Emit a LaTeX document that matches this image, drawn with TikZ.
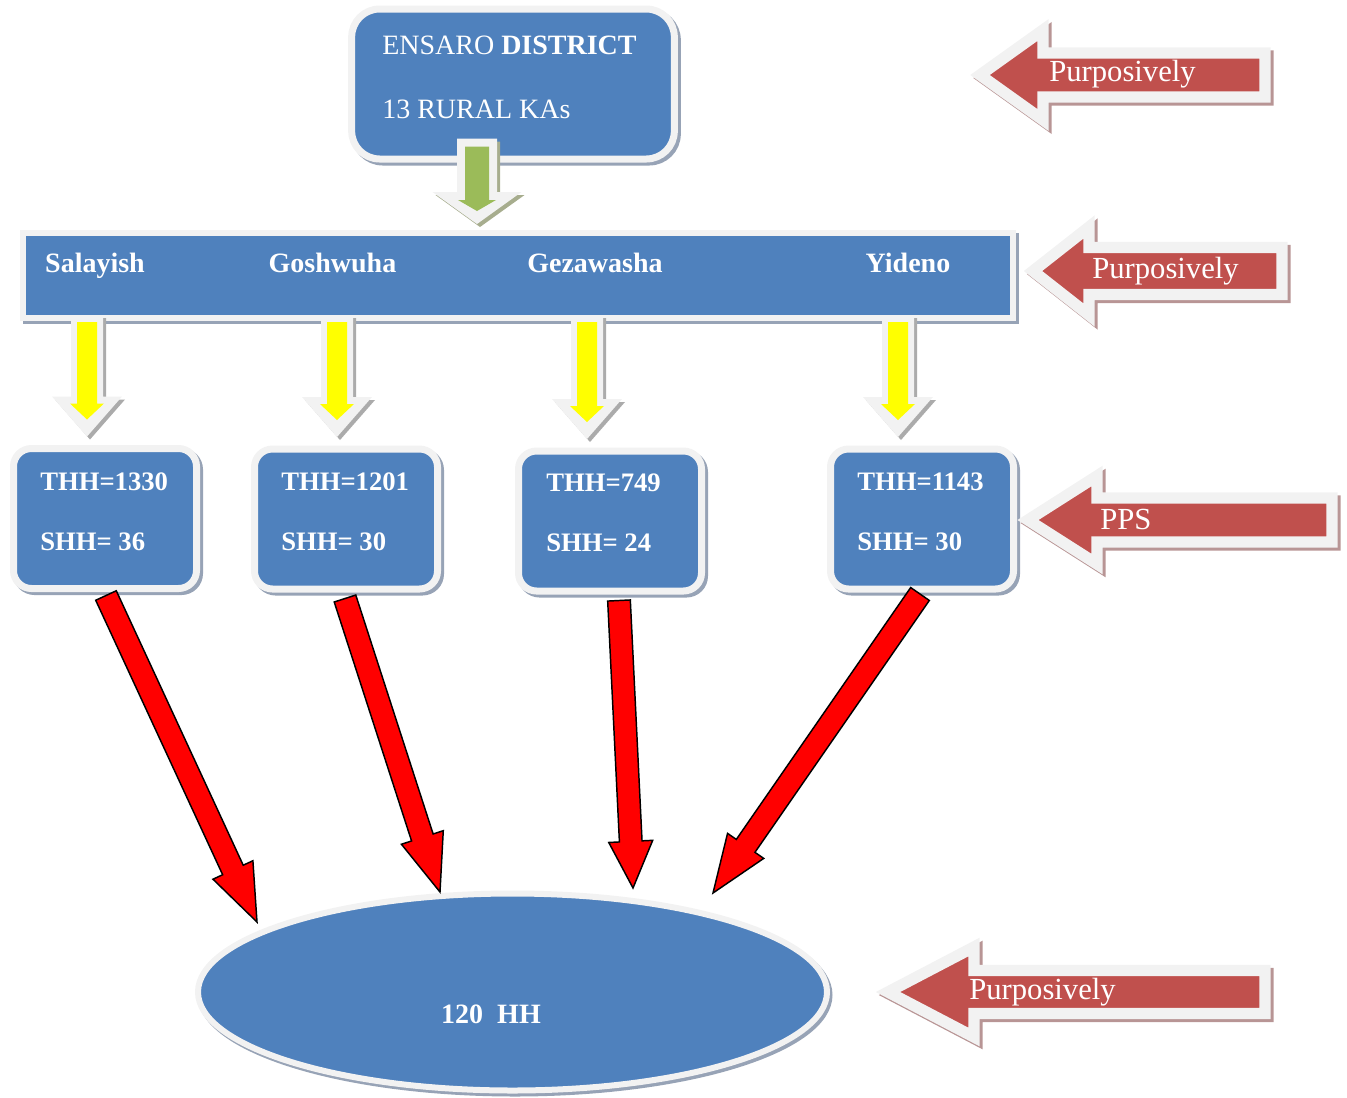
\documentclass[tikz,border=0pt]{standalone}
\usepackage{fontspec}
\setmainfont{Liberation Serif}
\usetikzlibrary{calc,shapes.geometric}
\definecolor{blu}{HTML}{4F81BD}
\definecolor{rd}{HTML}{C0504D}
\definecolor{grn}{HTML}{9BBB59}
\definecolor{rim}{HTML}{F2F2F2}
\definecolor{shdb}{HTML}{97A3B6}
\definecolor{shdr}{HTML}{B89595}
\definecolor{shdg}{HTML}{ABABAB}
\definecolor{shdo}{HTML}{A7AD8E}
\definecolor{ylw}{HTML}{FFFF00}
% fat block arrow: from, to, shaft half, head half, head length, style, shift
\newcommand{\fatarr}[7]{%
  \coordinate (fa-a) at ($(#1)+(#7)$);
  \coordinate (fa-b) at ($(#2)+(#7)$);
  \coordinate (fa-h) at ($(fa-b)!#5!(fa-a)$);
  \path[#6] ($(fa-a)!#3!90:(fa-b)$) -- ($(fa-h)!#3!90:(fa-b)$) -- ($(fa-h)!#4!90:(fa-b)$) -- (fa-b)
    -- ($(fa-h)!#4!-90:(fa-b)$) -- ($(fa-h)!#3!-90:(fa-b)$) -- ($(fa-a)!#3!-90:(fa-b)$) -- cycle;}
% left-pointing block arrow: tip x, centre y, head back x, right x, head half, shaft half, style
\newcommand{\lblock}[7]{%
  \path[#7] (#1,#2) -- (#3,#2-#5) -- (#3,#2-#6) -- (#4,#2-#6) -- (#4,#2+#6) -- (#3,#2+#6) -- (#3,#2+#5) -- cycle;}
\begin{document}
\begin{tikzpicture}[x=0.75pt,y=-0.75pt,
  rbox/.style={rectangle, draw=rim, fill=blu, line width=5.25pt, inner sep=0pt},
  rboxshd/.style={rectangle, draw=shdb, fill=shdb, line width=5.25pt, inner sep=0pt},
  smallbox/.style={minimum width=137.25pt, minimum height=105pt, rounded corners=13.5pt},
  txt/.style={text=white, inner sep=0pt, font=\fontsize{21}{25}\selectfont},
  btxt/.style={text=white, inner sep=0pt, font=\fontsize{20}{24}\selectfont\bfseries},
  bartxt/.style={text=white, inner sep=0pt, font=\fontsize{21}{25}\selectfont\bfseries},
  arrtxt/.style={text=white, inner sep=0pt, font=\fontsize{23}{27}\selectfont},
  rimfill/.style={fill=rim},
  redarr/.style={fill=red, draw=black, line width=1.1pt, line join=miter},
  lrim/.style={fill=rd, draw=rim, line width=8.5pt, line join=miter, miter limit=20},
  lshd/.style={fill=shdr, draw=shdr, line width=8.5pt, line join=miter, miter limit=20}]
\useasboundingbox (0,0) rectangle (1347,1097);

% ---------- top box ----------
\node[rboxshd, rounded corners=21pt, minimum width=242pt, minimum height=112.5pt] at (516,87) {};
\node[rbox, rounded corners=21pt, minimum width=242pt, minimum height=112.5pt] (dist) at (513,84) {};
\node[txt, anchor=west] (t1) at (382,45) {ENSARO \textbf{DISTRICT}};
\node[txt, anchor=west] (t2) at (382,109) {13 RURAL KAs};

% ---------- bar ----------
\node[rectangle, draw=shdb, fill=shdb, line width=4.5pt, minimum width=743pt, minimum height=63.75pt] at (521,278) {};
\node[rectangle, draw=rim, fill=blu, line width=4.5pt, minimum width=743pt, minimum height=63.75pt] (bar) at (518,275) {};
\node[bartxt, anchor=base] (k1) at (95,272) {Salayish};
\node[bartxt, anchor=base] (k2) at (332.5,272) {Goshwuha};
\node[bartxt, anchor=base] (k3) at (595,272) {Gezawasha};
\node[bartxt, anchor=base] (k4) at (908,272) {Yideno};

% ---------- green arrow ----------
\coordinate (gs) at ($(dist.south)+(-36,-24)$);
\coordinate (gt) at ($(bar.north)+(-41,-5.5)$);
\coordinate (gsi) at ($(gs)+(0,8)$);
\coordinate (gti) at ($(gt)+(0,-13)$);
\fatarr{gs}{gt}{15pt}{33.4pt}{24pt}{fill=shdo}{3,3}
\fatarr{gs}{gt}{15pt}{33.4pt}{24pt}{rimfill}{0,0}
\fatarr{gsi}{gti}{9pt}{14.25pt}{8.25pt}{fill=grn}{0,0}

% ---------- small boxes ----------
\foreach \n/\x/\y in {1/105/518.5, 2/346/519, 3/610/521, 4/922/519}{
  \node[rboxshd, smallbox] at (\x+3,\y+3) {};
  \node[rbox, smallbox] (b\n) at (\x,\y) {};
}
\node[btxt, anchor=west] (h1) at (40,482) {THH=1330};
\node[btxt, anchor=west] (s1) at (40,542) {SHH= 36};
\node[btxt, anchor=west] (h2) at (281,482) {THH=1201};
\node[btxt, anchor=west] (s2) at (281,542) {SHH= 30};
\node[btxt, anchor=west] (h3) at (546,483) {THH=749};
\node[btxt, anchor=west] (s3) at (546,543) {SHH= 24};
\node[btxt, anchor=west] (h4) at (857,482) {THH=1143};
\node[btxt, anchor=west] (s4) at (857,542) {SHH= 30};

% ---------- yellow arrows ----------
\foreach \n/\x in {1/87, 2/337, 3/587, 4/898}{
  \coordinate (ys\n) at (\x,315);
  \coordinate (yt\n) at ($(b\n.north -| ys\n)+(0,-8.5)$);
  \coordinate (ysi\n) at (\x,322);
  \coordinate (yti\n) at ($(yt\n)+(0,-17)$);
  \fatarr{ys\n}{yt\n}{12pt}{26.25pt}{30pt}{fill=shdg}{3,3}
  \fatarr{ys\n}{yt\n}{12pt}{26.25pt}{30pt}{rimfill}{0,0}
  \fatarr{ysi\n}{yti\n}{7.5pt}{12.75pt}{12pt}{fill=ylw}{0,0}
}

% ---------- ellipse ----------
\node[ellipse, draw=shdb, fill=shdb, line width=4.5pt, minimum width=471.75pt, minimum height=147.75pt, inner sep=0pt] at (515,995) {};
\node[ellipse, draw=rim, fill=blu, line width=4.5pt, minimum width=471.75pt, minimum height=147.75pt, inner sep=0pt] (hh) at (512.5,992) {};
\node[bartxt] (hht) at (491,1014) {120\ \ HH};

% ---------- red arrows ----------
\coordinate (r1s) at ($(b1.south)+(1,3.5)$);
\coordinate (r2s) at ($(b2.south)+(-1,6)$);
\coordinate (r3s) at ($(b3.south)+(9,6)$);
\coordinate (r4s) at ($(b4.south)+(-2,1.5)$);
\coordinate (r1t) at (257,922);
\coordinate (r2t) at (440,892);
\coordinate (r3t) at (633,888);
\coordinate (r4t) at (713,893);
\fatarr{r1s}{r1t}{8.5pt}{16.5pt}{43pt}{redarr}{0,0}
\fatarr{r2s}{r2t}{8.5pt}{16.5pt}{43pt}{redarr}{0,0}
\fatarr{r3s}{r3t}{8.5pt}{16.5pt}{35pt}{redarr}{0,0}
\fatarr{r4s}{r4t}{8.5pt}{16.5pt}{43pt}{redarr}{0,0}

% ---------- left arrows ----------
\lblock{983}{78}{1046}{1268}{45}{22}{lshd}
\lblock{980}{75}{1043}{1265}{45}{22}{lrim}
\node[arrtxt, anchor=west] (p1) at (1049,74) {Purposively};

\lblock{1036}{274}{1092}{1285}{44}{23.5}{lshd}
\lblock{1033}{271}{1089}{1282}{44}{23.5}{lrim}
\node[arrtxt, anchor=west] (p2) at (1092,271) {Purposively};

\lblock{1031}{523}{1100}{1335}{44}{22}{lshd}
\lblock{1028}{520}{1097}{1332}{44}{22}{lrim}
\node[arrtxt, anchor=west] (p3) at (1100,519) {PPS};

\lblock{891}{995}{977}{1268}{45}{21.5}{lshd}
\lblock{888}{992}{974}{1265}{45}{21.5}{lrim}
\node[arrtxt, anchor=west] (p4) at (969,992) {Purposively};
\end{tikzpicture}
\end{document}
